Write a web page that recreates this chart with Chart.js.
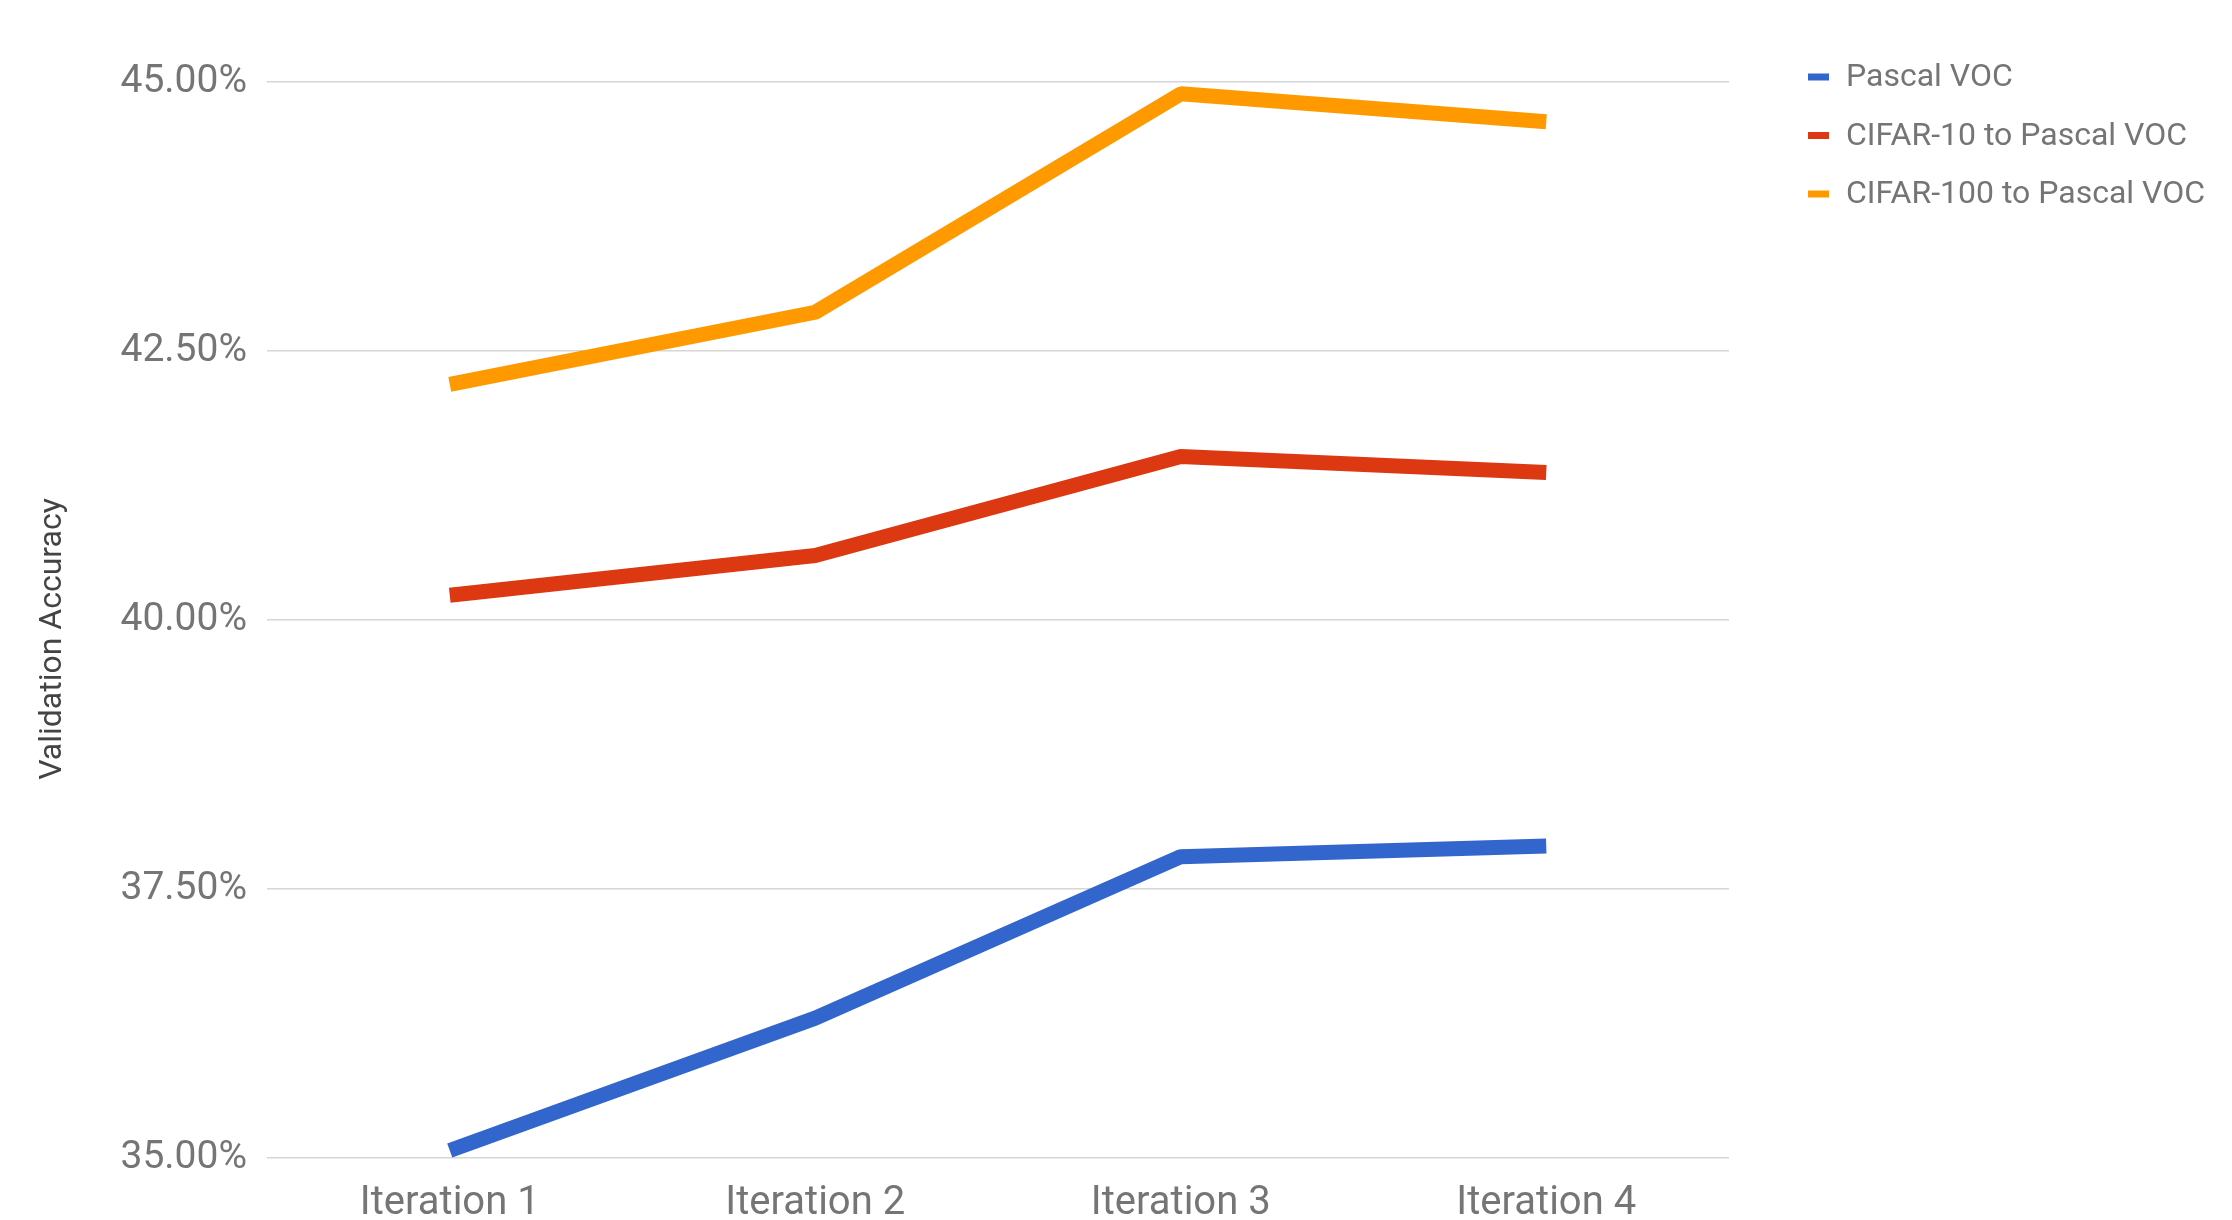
<!DOCTYPE html>
<html>
<head>
<meta charset="utf-8">
<script src="https://cdn.jsdelivr.net/npm/chart.js@4.4.1/dist/chart.umd.min.js"></script>
<style>
  html, body { margin: 0; padding: 0; background: #fff; }
  #wrap { width: 2232px; height: 1220px; position: relative; }
</style>
</head>
<body>
<div id="wrap"><canvas id="accChart" width="2232" height="1220"></canvas></div>
<script>
// 반복 단계별 검증 정확도 (%)
const iterations = ["Iteration 1", "Iteration 2", "Iteration 3", "Iteration 4"];
const pascalVoc = [35.07, 36.3, 37.8, 37.9];
const cifar10ToVoc = [40.23, 40.6, 41.52, 41.37];
const cifar100ToVoc = [42.19, 42.86, 44.89, 44.63];
const seriesNames = ["Pascal VOC", "CIFAR-10 to Pascal VOC", "CIFAR-100 to Pascal VOC"];
const yTicks = [35, 37.5, 40, 42.5, 45];
const yTitle = "Validation Accuracy";

const palette = ["#3366CC", "#DC3912", "#FF9900"];
const textGray = "#757575";

// 오른쪽 범례 (짧은 선 + 라벨) 와 세로축 제목
const sideLegend = {
  id: "sideLegend",
  afterDraw(chart) {
    const { ctx, chartArea } = chart;
    const x0 = chartArea.right + 79;
    ctx.save();
    ctx.font = "32px Roboto";
    ctx.textBaseline = "middle";
    chart.data.datasets.forEach((ds, i) => {
      const y = 77 + i * 58.5;
      ctx.fillStyle = ds.borderColor;
      ctx.fillRect(x0, y - 3.5, 21, 7);
      ctx.fillStyle = textGray;
      ctx.fillText(ds.label, x0 + 38, y + 1);
    });

    // 세로축 제목은 살짝 아래쪽에 놓인다
    ctx.translate(53, 639);
    ctx.rotate(-Math.PI / 2);
    ctx.font = "32px Roboto";
    ctx.textAlign = "center";
    ctx.fillStyle = "#444";
    ctx.fillText(yTitle, 0, 0);
    ctx.restore();
  },
};

const series = [pascalVoc, cifar10ToVoc, cifar100ToVoc];

new Chart(document.getElementById("accChart"), {
  type: "line",
  data: {
    labels: iterations,
    datasets: series.map((data, i) => ({
      label: seriesNames[i],
      data: data,
      borderColor: palette[i],
      backgroundColor: palette[i],
      borderWidth: 15,
      borderJoinStyle: "bevel",
      pointRadius: 0,
      fill: false,
      tension: 0,
    })),
  },
  options: {
    responsive: false,
    animation: false,
    layout: { padding: { top: 82, right: 503, bottom: 0, left: 0 } },
    plugins: {
      legend: { display: false },
      tooltip: { enabled: false },
    },
    scales: {
      x: {
        offset: true,
        grid: { display: false, drawTicks: false },
        border: { display: false },
        ticks: {
          color: textGray,
          font: { family: "Roboto", size: 40, lineHeight: 1 },
          padding: 26,
          maxRotation: 0,
        },
        afterFit(scale) {
          scale.height = 62;
        },
      },
      y: {
        min: 35,
        max: 45,
        afterBuildTicks(scale) {
          scale.ticks = yTicks.map((v) => ({ value: v }));
        },
        grid: { color: "#d6d6d6", lineWidth: 1.5, drawTicks: false },
        border: { display: false },
        ticks: {
          color: textGray,
          font: { family: "Roboto", size: 39 },
          padding: 20,
          callback: (v) => v.toFixed(2) + "%",
        },
        afterFit(scale) {
          scale.width = 267;
        },
      },
    },
  },
  plugins: [sideLegend],
});
</script>
</body>
</html>
